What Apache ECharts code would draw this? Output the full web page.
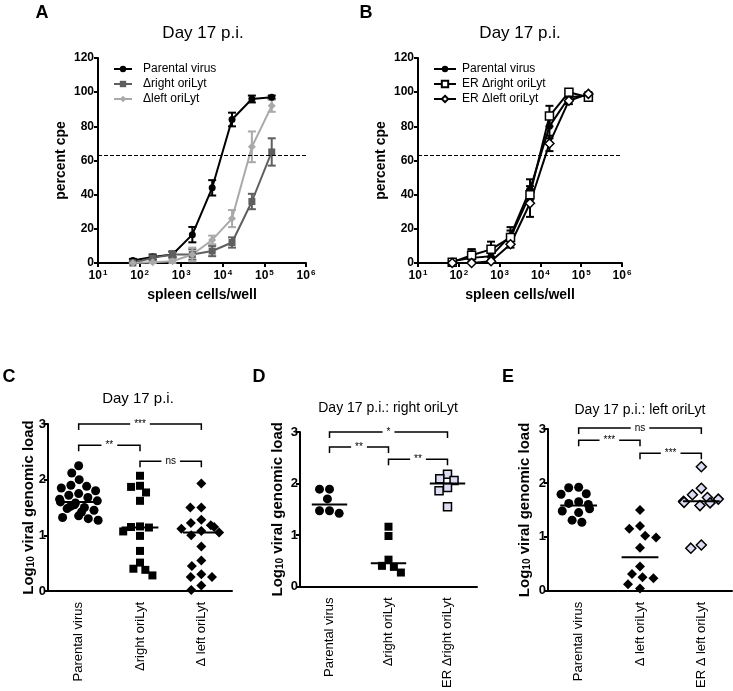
<!DOCTYPE html>
<html><head><meta charset="utf-8">
<script src="https://cdn.jsdelivr.net/npm/echarts@6/dist/echarts.min.js"></script>
<style>html,body{margin:0;padding:0;background:#fff}#c{width:733px;height:691px}</style>
</head><body><div id="c"></div>
<script>
const FONT = '"Liberation Sans", Arial, sans-serif';

// ---------- Panels A / B : percent cpe vs spleen cells/well ----------
const cellsPerWell = [69, 206, 617, 1852, 5556, 16667, 50000, 150000];
const aParental    = [1.4, 3.5, 5, 16.6, 44, 84, 96, 97];
const aParentalErr = [1, 1.5, 1.5, 4.5, 4.5, 4, 2, 1];
const aRight       = [0, 3, 5, 5, 7, 12, 36, 65];
const aRightErr    = [0.5, 1, 2, 3, 3, 3, 4.5, 8];
const aLeft        = [0, 0.5, 1, 5, 13.5, 26, 68, 92];
const aLeftErr     = [0.5, 0.5, 1, 4, 2.5, 5, 9, 3.5];
const bParental    = [1, 3, 4, 16, 43, 80, 97, 98];
const bParentalErr = [1, 5, 4, 5, 6, 7, 2, 1];
const bRight       = [0.5, 4.5, 8, 15, 40, 86, 100, 97];
const bRightErr    = [1, 3.5, 4.5, 4, 5, 6, 1, 1];
const bLeft        = [0, 0, 1, 11, 35, 70, 95, 99];
const bLeftErr     = [0.5, 0.5, 1, 2, 8, 4.5, 2, 1];
const cpeThreshold = 63;

// ---------- Panel C ----------
const catsC = ['Parental virus', 'Δright oriLyt', 'Δ left oriLyt'];
const cParental = [2.25, 2.12, 2.0, 1.9, 1.88, 1.85, 1.8, 1.75, 1.72, 1.68, 1.65, 1.62, 1.6, 1.58, 1.55, 1.52, 1.5, 1.48, 1.45, 1.42, 1.35, 1.32, 1.3, 1.27];
const cRight = [2.07, 1.89, 1.87, 1.77, 1.62, 1.16, 1.15, 1.14, 1.07, 0.99, 0.72, 0.51, 0.40, 0.38, 0.28];
const cLeft = [1.93, 1.5, 1.5, 1.28, 1.22, 1.18, 1.15, 1.12, 1.08, 1.05, 1.0, 0.8, 0.55, 0.45, 0.3, 0.25, 0.25, 0.1, 0.02];
const cMedians = [1.6, 1.14, 1.05];
const cBrackets = [[0, 2, 3.0], [0, 1, 2.62], [1, 2, 2.33]];
const cBracketLabels = ['***', '**', 'ns'];

// ---------- Panel D ----------
const catsD = ['Parental virus', 'Δright oriLyt', 'ER Δright oriLyt'];
const dParental = [1.89, 1.89, 1.70, 1.47, 1.47, 1.42];
const dRight = [1.16, 0.98, 0.52, 0.40, 0.38, 0.27];
const dER = [2.18, 2.09, 2.06, 1.92, 1.86, 1.55];
const dMedians = [1.59, 0.45, 2.0];
const dBrackets = [[0, 2, 3.0], [0, 1, 2.71], [1, 2, 2.47]];
const dBracketLabels = ['*', '**', '**'];

// ---------- Panel E ----------
const catsE = ['Parental virus', 'Δ left oriLyt', 'ER Δ left oriLyt'];
const eParental = [1.92, 1.91, 1.80, 1.79, 1.65, 1.62, 1.60, 1.52, 1.48, 1.45, 1.31, 1.27];
const eLeft = [1.50, 1.20, 1.15, 1.02, 0.99, 0.80, 0.45, 0.31, 0.25, 0.23, 0.12, 0.04];
const eER = [2.30, 1.90, 1.78, 1.73, 1.70, 1.66, 1.64, 1.63, 1.58, 0.85, 0.79];
const eMedians = [1.58, 0.62, 1.66];
const eBrackets = [[0, 2, 3.02], [0, 1, 2.79], [1, 2, 2.55]];
const eBracketLabels = ['ns', '***', '***'];

// ---------- helpers ----------
const zip = (xs, ys) => xs.map((x, i) => [x, ys[i]]);
const errData = (xs, ys, es) => xs.map((x, i) => [x, Math.max(0, ys[i] - es[i]), ys[i] + es[i]]);
const lbl = {fontFamily: FONT, color: '#000'};

function logX(gridIndex) {
  return {
    type: 'log', gridIndex, min: 10, max: 1e6, logBase: 10,
    splitLine: {show: false}, minorTick: {show: false},
    axisLine: {show: true, onZero: false, lineStyle: {color: '#000', width: 2}},
    axisTick: {show: true, length: 4, lineStyle: {color: '#000', width: 2}},
    axisLabel: {
      margin: 6,
      formatter: v => '{b|10}{s|' + Math.round(Math.log10(v)) + '}',
      rich: {
        b: {fontSize: 12, fontWeight: 'bold', fontFamily: FONT, color: '#000'},
        s: {fontSize: 8, fontWeight: 'bold', fontFamily: FONT, color: '#000', verticalAlign: 'top', padding: [0, 0, 6, 1]}
      }
    },
    name: 'spleen cells/well', nameLocation: 'middle', nameGap: 25,
    nameTextStyle: {fontSize: 14, fontWeight: 'bold', fontFamily: FONT, color: '#000'}
  };
}
function cpeY(gridIndex) {
  return {
    type: 'value', gridIndex, min: 0, max: 120, interval: 20,
    splitLine: {show: false},
    axisLine: {show: true, onZero: false, lineStyle: {color: '#000', width: 2}},
    axisTick: {show: true, length: 4, lineStyle: {color: '#000', width: 2}},
    axisLabel: Object.assign({fontSize: 12, fontWeight: 'bold', margin: 4}, lbl),
    name: 'percent cpe', nameLocation: 'middle', nameGap: 30,
    nameTextStyle: {fontSize: 14, fontWeight: 'bold', fontFamily: FONT, color: '#000'}
  };
}
function catX(gridIndex, cats, jitter) {
  return {
    type: 'category', gridIndex, data: cats, jitter, jitterOverlap: false, jitterMargin: 1,
    axisLine: {show: true, onZero: false, lineStyle: {color: '#000', width: 2}},
    axisTick: {show: false},
    axisLabel: Object.assign({fontSize: 13, rotate: 90, margin: 11, interval: 0}, lbl)
  };
}
function hiddenX(gridIndex) {
  return {type: 'value', gridIndex, min: -0.5, max: 2.5, show: false,
    axisLine: {onZero: false}};
}
function loadY(gridIndex, gap) {
  return {
    type: 'value', gridIndex, min: 0, max: 3, interval: 1,
    splitLine: {show: false},
    axisLine: {show: true, onZero: false, lineStyle: {color: '#000', width: 2}},
    axisTick: {show: true, length: 4, lineStyle: {color: '#000', width: 2}},
    axisLabel: Object.assign({fontSize: 13, fontWeight: 'bold', margin: 2}, lbl),
    name: '{a|Log}{s|10}{a| viral genomic load}', nameLocation: 'middle', nameGap: gap,
    nameMoveOverlap: false,
    nameTextStyle: {
      rich: {
        a: {fontSize: 15, fontWeight: 'bold', fontFamily: FONT, color: '#000'},
        s: {fontSize: 10, fontWeight: 'bold', fontFamily: FONT, color: '#000', verticalAlign: 'bottom', padding: [5, 0, 0, 0]}
      }
    }
  };
}

function curve(name, xi, yi, ys, symbol, size, color, fill) {
  return {
    type: 'line', name, xAxisIndex: xi, yAxisIndex: yi, data: zip(cellsPerWell, ys),
    symbol, symbolSize: size, showSymbol: true,
    lineStyle: {color, width: 2},
    itemStyle: {color: fill || color, borderColor: color, borderWidth: fill ? 1.5 : 0, opacity: 1},
    z: 3
  };
}
function errBars(xi, yi, ys, es, color) {
  return {
    type: 'custom', xAxisIndex: xi, yAxisIndex: yi, z: 2,
    data: errData(cellsPerWell, ys, es),
    encode: {x: 0, y: [1, 2]},
    renderItem: (p, api) => {
      const lo = api.coord([api.value(0), api.value(1)]);
      const hi = api.coord([api.value(0), api.value(2)]);
      const w = 4, st = {stroke: color, lineWidth: 2};
      return {type: 'group', children: [
        {type: 'line', shape: {x1: lo[0], y1: lo[1], x2: hi[0], y2: hi[1]}, style: st},
        {type: 'line', shape: {x1: lo[0] - w, y1: lo[1], x2: lo[0] + w, y2: lo[1]}, style: st},
        {type: 'line', shape: {x1: hi[0] - w, y1: hi[1], x2: hi[0] + w, y2: hi[1]}, style: st}
      ]};
    }
  };
}
function threshold(xi, yi) {
  return {
    type: 'line', xAxisIndex: xi, yAxisIndex: yi, data: [], silent: true,
    markLine: {
      silent: true, symbol: 'none', label: {show: false},
      lineStyle: {type: [4, 2], color: '#000', width: 1},
      data: [{yAxis: cpeThreshold}]
    }
  };
}
function dots(xi, yi, cat, vals, symbol, size, fill) {
  return {
    type: 'scatter', xAxisIndex: xi, yAxisIndex: yi, symbol, symbolSize: size,
    data: vals.map(v => [cat, v]),
    itemStyle: {color: fill || '#000', borderColor: '#000', borderWidth: fill ? 1.5 : 0, opacity: 1},
    z: 3
  };
}
function medianSeries(xi, yi, meds) {
  return {
    type: 'custom', xAxisIndex: xi, yAxisIndex: yi, z: 4,
    data: meds.map((m, i) => [i, m]),
    renderItem: (p, api) => {
      const a = api.coord([api.value(0) - 0.3, api.value(1)]);
      const b = api.coord([api.value(0) + 0.3, api.value(1)]);
      return {type: 'line', shape: {x1: a[0], y1: a[1], x2: b[0], y2: b[1]}, style: {stroke: '#000', lineWidth: 2}};
    }
  };
}
function bracketSeries(xi, yi, br) {
  return {
    type: 'custom', xAxisIndex: xi, yAxisIndex: yi, z: 4, clip: false,
    data: br,
    encode: {x: [0, 1], y: 2},
    renderItem: (p, api) => {
      const a = api.coord([api.value(0), api.value(2)]);
      const b = api.coord([api.value(1), api.value(2)]);
      const d = 6;
      return {type: 'polyline', shape: {points: [[a[0], a[1] + d], a, b, [b[0], b[1] + d]]},
        style: {stroke: '#000', lineWidth: 1.5, fill: null}};
    }
  };
}
function bracketLabels(xi, yi, br, labels) {
  return {
    type: 'scatter', xAxisIndex: xi, yAxisIndex: yi, z: 6, symbolSize: 2, clip: false,
    itemStyle: {color: 'rgba(255,255,255,0)'},
    data: br.map((b, i) => ({value: [(b[0] + b[1]) / 2, b[2]], name: labels[i]})),
    label: {
      show: true, position: 'inside', formatter: p => p.name,
      fontSize: 10, fontFamily: FONT, color: '#000', backgroundColor: '#fff', padding: [1, 4, 0, 4],
      lineHeight: 11, opacity: 1
    }
  };
}

const titleStyle = (text, x, y, size) => ({
  type: 'text', x, y,
  style: {text, fontSize: size, fontFamily: FONT, fill: '#000', textAlign: 'center', textVerticalAlign: 'middle'}
});
const letter = (text, x, y) => ({
  type: 'text', x, y,
  style: {text, fontSize: 18, fontWeight: 'bold', fontFamily: FONT, fill: '#000', textAlign: 'center', textVerticalAlign: 'middle'}
});

const LIGHT = '#dcdcf3';
const option = {
  animation: false,
  backgroundColor: '#fff',
  textStyle: {fontFamily: FONT},
  graphic: [
    letter('A', 42, 13), letter('B', 366, 13),
    letter('C', 9, 377), letter('D', 259, 377), letter('E', 508, 377),
    titleStyle('Day 17 p.i.', 203, 33, 17), titleStyle('Day 17 p.i.', 520, 33, 17),
    titleStyle('Day 17 p.i.', 138, 399, 15),
    titleStyle('Day 17 p.i.: right oriLyt', 388, 408, 14),
    titleStyle('Day 17 p.i.: left oriLyt', 640, 410, 14)
  ],
  legend: [
    {
      data: ['Parental virus', 'Δright oriLyt', 'Δleft oriLyt'],
      left: 108, top: 58, orient: 'vertical', itemWidth: 18, itemHeight: 8, itemGap: 3,
      textStyle: {fontSize: 12, fontFamily: FONT, color: '#000', padding: [0, 0, 0, 6]},
      selectedMode: false
    },
    {
      data: ['Parental virus', 'ER Δright oriLyt', 'ER Δleft oriLyt'],
      left: 428, top: 58, orient: 'vertical', itemWidth: 22, itemHeight: 8, itemGap: 3,
      textStyle: {fontSize: 12, fontFamily: FONT, color: '#000', padding: [0, 0, 0, 1]},
      selectedMode: false
    }
  ],
  grid: [
    {left: 98, top: 58, width: 208, height: 205},
    {left: 418, top: 58, width: 204, height: 205},
    {left: 48, top: 424, width: 184, height: 167},
    {left: 300, top: 432, width: 177, height: 159},
    {left: 548, top: 429, width: 184, height: 163}
  ],
  xAxis: [
    logX(0), logX(1),
    catX(2, catsC, 40), hiddenX(2),
    catX(3, catsD, 34), hiddenX(3),
    catX(4, catsE, 36), hiddenX(4)
  ],
  yAxis: [cpeY(0), cpeY(1), loadY(2, 12), loadY(3, 15), loadY(4, 16)],
  series: [
    threshold(0, 0),
    errBars(0, 0, aParental, aParentalErr, '#000'),
    errBars(0, 0, aRight, aRightErr, '#5f5f5f'),
    errBars(0, 0, aLeft, aLeftErr, '#a9a9a9'),
    curve('Parental virus', 0, 0, aParental, 'circle', 7, '#000'),
    curve('Δright oriLyt', 0, 0, aRight, 'rect', 7, '#5f5f5f'),
    curve('Δleft oriLyt', 0, 0, aLeft, 'diamond', 8, '#a9a9a9'),

    threshold(1, 1),
    errBars(1, 1, bParental, bParentalErr, '#000'),
    errBars(1, 1, bRight, bRightErr, '#000'),
    errBars(1, 1, bLeft, bLeftErr, '#000'),
    curve('Parental virus', 1, 1, bParental, 'circle', 7, '#000'),
    curve('ER Δright oriLyt', 1, 1, bRight, 'rect', 8, '#000', '#fff'),
    curve('ER Δleft oriLyt', 1, 1, bLeft, 'diamond', 9, '#000', '#fff'),

    dots(2, 2, catsC[0], cParental, 'circle', 9),
    dots(2, 2, catsC[1], cRight, 'rect', 8),
    dots(2, 2, catsC[2], cLeft, 'diamond', 10),
    medianSeries(3, 2, cMedians),
    bracketSeries(3, 2, cBrackets),
    bracketLabels(3, 2, cBrackets, cBracketLabels),

    dots(4, 3, catsD[0], dParental, 'circle', 9),
    dots(4, 3, catsD[1], dRight, 'rect', 8),
    dots(4, 3, catsD[2], dER, 'rect', 8, LIGHT),
    medianSeries(5, 3, dMedians),
    bracketSeries(5, 3, dBrackets),
    bracketLabels(5, 3, dBrackets, dBracketLabels),

    dots(6, 4, catsE[0], eParental, 'circle', 9),
    dots(6, 4, catsE[1], eLeft, 'diamond', 10),
    dots(6, 4, catsE[2], eER, 'diamond', 10, LIGHT),
    medianSeries(7, 4, eMedians),
    bracketSeries(7, 4, eBrackets),
    bracketLabels(7, 4, eBrackets, eBracketLabels)
  ]
};
const chart = echarts.init(document.getElementById('c'), null, {renderer: 'canvas'});
chart.setOption(option);
</script>
</body></html>
